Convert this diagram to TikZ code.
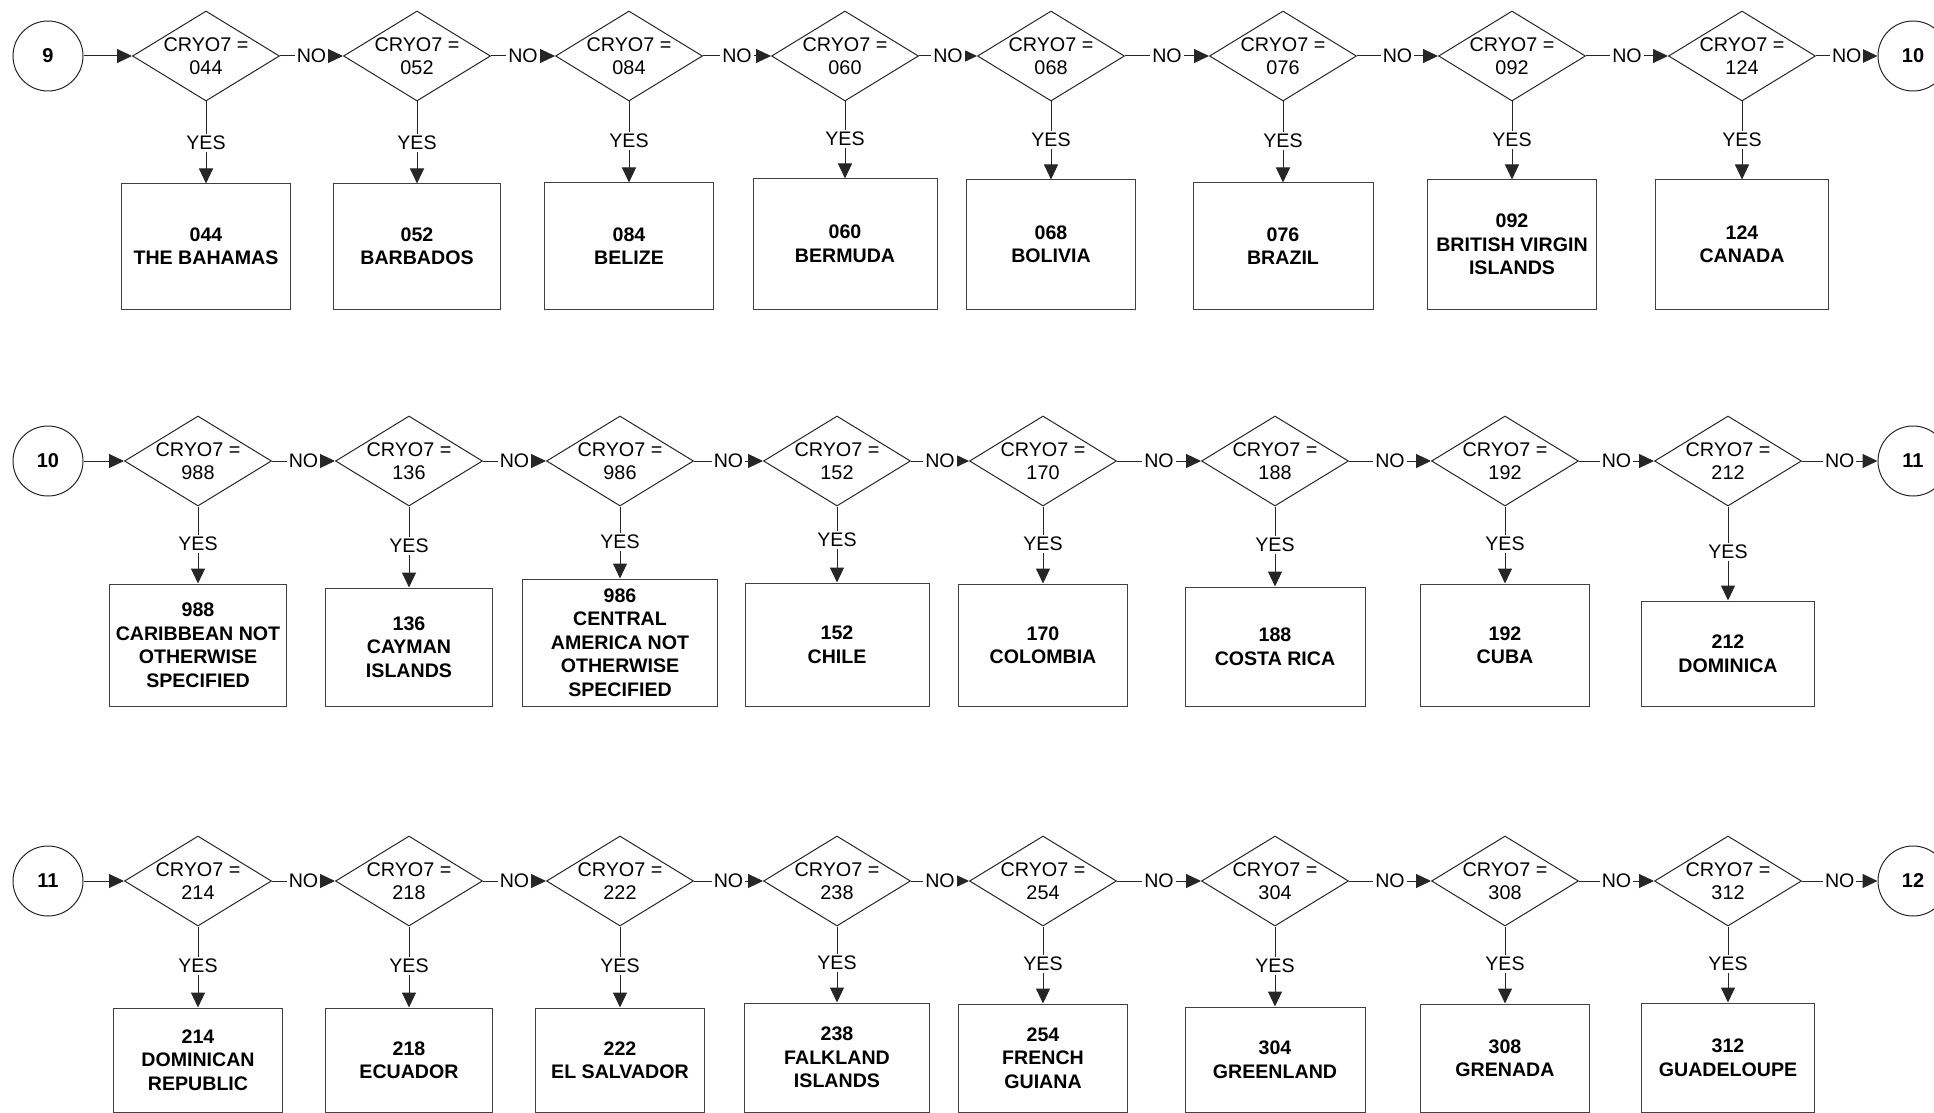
\documentclass[tikz,border=0pt]{standalone}
\usepackage{fontspec}
\setmainfont{Liberation Sans}
\usetikzlibrary{shapes.geometric,arrows.meta}
\tikzset{
  ln/.style={draw=black!85, line width=0.5pt},
  arr/.style={ln, -{Triangle[length=7.5pt,width=7pt]}},
  dia/.style={diamond, ln, minimum width=73.5pt, minimum height=45pt, inner sep=0pt},
  dtxt/.style={inner sep=0pt, align=center, font=\fontsize{9.9pt}{11.5pt}\selectfont},
  obox/.style={rectangle, draw=black!75, line width=0.5pt, inner sep=0pt, align=center, font=\bfseries\fontsize{9.8pt}{11.75pt}\selectfont},
  lbl/.style={fill=white, inner sep=1pt, font=\fontsize{9.8pt}{12pt}\selectfont},
  conn/.style={circle, ln, minimum size=35pt, inner sep=0pt, font=\bfseries\fontsize{10pt}{12pt}\selectfont},
}
\newcommand\Qcell[9]{%
  \node[dia] (d#1) at (#2,#3) {};
  \node[dtxt] (t#1) at (d#1.center) {CRYO7 =\\#4};
  \node[obox, minimum width=#5*0.5pt, minimum height={(#7-#6)*0.5pt}] (b#1) at (#2,{(#6+#7)/2}) {#8};
  \node[lbl] (y#1) at (#2,#9) {YES};
  \draw[ln] (d#1.south) -- (y#1.north);
  \draw[arr] (y#1.south) -- (b#1.north);
}
\begin{document}
\begin{tikzpicture}[x=0.5pt,y=-0.5pt]
\useasboundingbox (0,0) rectangle (1934,1113);
\clip (0,0) rectangle (1934,1113);
% ---------- Row 1 ----------
\node[conn] (c9) at (48,56) {9};
\Qcell{a1}{206}{56}{044}{169}{184}{309}{044\\THE BAHAMAS}{143}
\Qcell{a2}{417}{56}{052}{167}{184}{309}{052\\BARBADOS}{143}
\Qcell{a3}{629}{56}{084}{169}{183}{309}{084\\BELIZE}{141}
\Qcell{a4}{845}{56}{060}{184}{179}{309}{060\\BERMUDA}{139}
\Qcell{a5}{1051}{56}{068}{169}{180}{309}{068\\BOLIVIA}{140}
\Qcell{a6}{1283}{56}{076}{180}{183}{309}{076\\BRAZIL}{141}
\Qcell{a7}{1512}{56}{092}{169}{180}{309}{092\\BRITISH VIRGIN\\ISLANDS}{140}
\Qcell{a8}{1742}{56}{124}{173}{180}{309}{124\\CANADA}{140}
\node[conn] (c10a) at (1913,56) {10};
\draw[arr] (c9.east) -- (da1.west);
\draw[arr] (da1.east) -- node[lbl] (na1) {NO} (da2.west);
\draw[arr] (da2.east) -- node[lbl] (na2) {NO} (da3.west);
\draw[arr] (da3.east) -- node[lbl] (na3) {NO} (da4.west);
\draw[arr] (da4.east) -- node[lbl] (na4) {NO} (da5.west);
\draw[arr] (da5.east) -- node[lbl] (na5) {NO} (da6.west);
\draw[arr] (da6.east) -- node[lbl] (na6) {NO} (da7.west);
\draw[arr] (da7.east) -- node[lbl] (na7) {NO} (da8.west);
\draw[arr] (da8.east) -- node[lbl] (na8) {NO} (c10a.west);
% ---------- Row 2 ----------
\node[conn] (c10b) at (48,461) {10};
\Qcell{b1}{198}{461}{988}{177}{584}{706}{988\\CARIBBEAN NOT\\OTHERWISE\\SPECIFIED}{544}
\Qcell{b2}{409}{461}{136}{167}{588}{706}{136\\CAYMAN\\ISLANDS}{546}
\Qcell{b3}{620}{461}{986}{195}{579}{706}{986\\CENTRAL\\AMERICA NOT\\OTHERWISE\\SPECIFIED}{542}
\Qcell{b4}{837}{461}{152}{184}{583}{706}{152\\CHILE}{540}
\Qcell{b5}{1043}{461}{170}{169}{584}{706}{170\\COLOMBIA}{544}
\Qcell{b6}{1275}{461}{188}{180}{587}{706}{188\\COSTA RICA}{545}
\Qcell{b7}{1505}{461}{192}{169}{584}{706}{192\\CUBA}{544}
\Qcell{b8}{1728}{461}{212}{173}{601}{706}{212\\DOMINICA}{552}
\node[conn] (c11a) at (1913,461) {11};
\draw[arr] (c10b.east) -- (db1.west);
\draw[arr] (db1.east) -- node[lbl] (nb1) {NO} (db2.west);
\draw[arr] (db2.east) -- node[lbl] (nb2) {NO} (db3.west);
\draw[arr] (db3.east) -- node[lbl] (nb3) {NO} (db4.west);
\draw[arr] (db4.east) -- node[lbl] (nb4) {NO} (db5.west);
\draw[arr] (db5.east) -- node[lbl] (nb5) {NO} (db6.west);
\draw[arr] (db6.east) -- node[lbl] (nb6) {NO} (db7.west);
\draw[arr] (db7.east) -- node[lbl] (nb7) {NO} (db8.west);
\draw[arr] (db8.east) -- node[lbl] (nb8) {NO} (c11a.west);
% ---------- Row 3 ----------
\node[conn] (c11b) at (48,881) {11};
\Qcell{c1}{198}{881}{214}{169}{1008}{1112}{214\\DOMINICAN\\REPUBLIC}{966}
\Qcell{c2}{409}{881}{218}{167}{1008}{1112}{218\\ECUADOR}{966}
\Qcell{c3}{620}{881}{222}{169}{1008}{1112}{222\\EL SALVADOR}{966}
\Qcell{c4}{837}{881}{238}{185}{1003}{1112}{238\\FALKLAND\\ISLANDS}{963}
\Qcell{c5}{1043}{881}{254}{169}{1004}{1112}{254\\FRENCH\\GUIANA}{964}
\Qcell{c6}{1275}{881}{304}{180}{1007}{1112}{304\\GREENLAND}{966}
\Qcell{c7}{1505}{881}{308}{169}{1004}{1112}{308\\GRENADA}{964}
\Qcell{c8}{1728}{881}{312}{173}{1003}{1112}{312\\GUADELOUPE}{964}
\node[conn] (c12) at (1913,881) {12};
\draw[arr] (c11b.east) -- (dc1.west);
\draw[arr] (dc1.east) -- node[lbl] (nc1) {NO} (dc2.west);
\draw[arr] (dc2.east) -- node[lbl] (nc2) {NO} (dc3.west);
\draw[arr] (dc3.east) -- node[lbl] (nc3) {NO} (dc4.west);
\draw[arr] (dc4.east) -- node[lbl] (nc4) {NO} (dc5.west);
\draw[arr] (dc5.east) -- node[lbl] (nc5) {NO} (dc6.west);
\draw[arr] (dc6.east) -- node[lbl] (nc6) {NO} (dc7.west);
\draw[arr] (dc7.east) -- node[lbl] (nc7) {NO} (dc8.west);
\draw[arr] (dc8.east) -- node[lbl] (nc8) {NO} (c12.west);
\end{tikzpicture}
\end{document}
